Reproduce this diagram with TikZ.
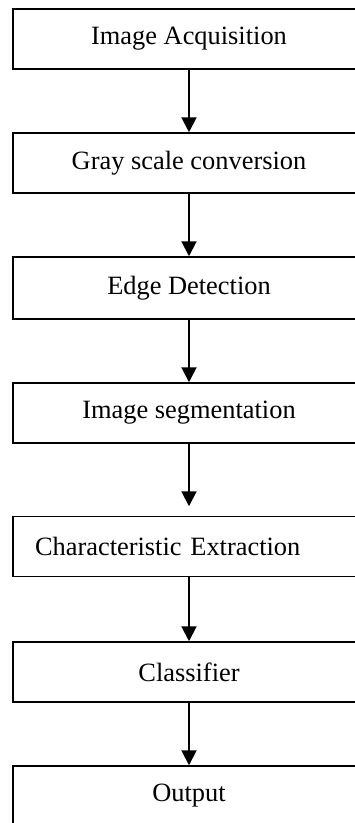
\documentclass[tikz,border=0pt]{standalone}
\usepackage{fontspec}
\setmainfont{Liberation Serif}
\usetikzlibrary{arrows.meta}
\begin{document}
\begin{tikzpicture}[x=1pt,y=-1pt,
  box/.style={draw, line width=1.5pt, minimum width=352pt, minimum height=60pt,
    inner sep=0pt, font=\fontsize{26.4}{30}\selectfont},
  flow/.style={-{Triangle[length=15pt,width=15pt]}, line width=2pt}]
\useasboundingbox (0,0) rectangle (355,823);
\clip (0,0) rectangle (355,823);
\node[box] (b1) at (189,39) {Image Acquisition};
\node[box] (b2) at (189,163) {Gray scale conversion};
\node[box, minimum height=62pt] (b3) at (189,288) {Edge Detection};
\node[box] (b4) at (189,413) {Image segmentation};
\node[box, inner xsep=22pt, text width=308pt, align=left] (b5) at (189,546.5) {Characteristic Extraction};
\node[box] (b6) at (189,672) {Classifier};
\node[box] (b7) at (189,796) {Output};
\draw[flow] (b1) -- (b2);
\draw[flow] (b2) -- (b3);
\draw[flow] (b3) -- (b4);
\draw[flow, shorten >=9.5pt] (b4) -- (b5);
\draw[flow] (b5) -- (b6);
\draw[flow] (b6) -- (b7);
\end{tikzpicture}
\end{document}
